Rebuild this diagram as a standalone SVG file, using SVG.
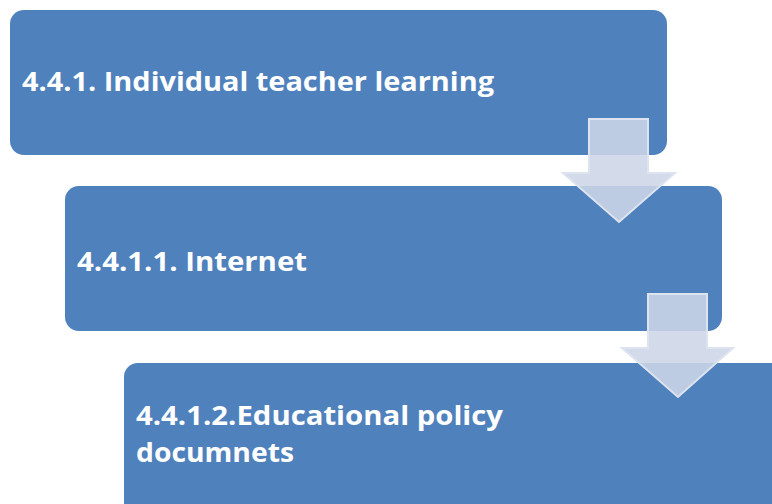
<svg xmlns="http://www.w3.org/2000/svg" width="772" height="504" viewBox="0 0 772 504">
<style>
.box{fill:#4F81BD;}
.lbl{fill:#FFFFFF;font-family:"Open Sans","Liberation Sans",sans-serif;font-weight:700;font-size:27px;}
.arr{fill:#CDD6E8;fill-opacity:0.88;stroke:#DDE3EF;stroke-width:2;stroke-linejoin:miter;}
</style>
<rect width="772" height="504" fill="#FFFFFF"/>
<g id="node1">
<rect class="box" x="10" y="10" width="657" height="145" rx="14"/>
<text class="lbl" x="22" y="91" textLength="472" lengthAdjust="spacingAndGlyphs">4.4.1. Individual teacher learning</text>
</g>
<g id="node2">
<rect class="box" x="65" y="186" width="657" height="145" rx="14"/>
<text class="lbl" x="77" y="271" textLength="230" lengthAdjust="spacingAndGlyphs">4.4.1.1. Internet</text>
</g>
<g id="node3">
<rect class="box" x="124" y="363" width="670" height="160" rx="14"/>
<text class="lbl" x="136" y="425" textLength="367" lengthAdjust="spacingAndGlyphs">4.4.1.2.Educational policy</text>
<text class="lbl" x="136" y="462" textLength="158" lengthAdjust="spacingAndGlyphs">documnets</text>
</g>
<g id="connectors">
<path class="arr" d="M589,119 H648 V173 H675 L619,222 L563,173 H589 Z"/>
<path class="arr" d="M648,294 H707 V348 H733 L678,397 L622,348 H648 Z"/>
</g>
</svg>
